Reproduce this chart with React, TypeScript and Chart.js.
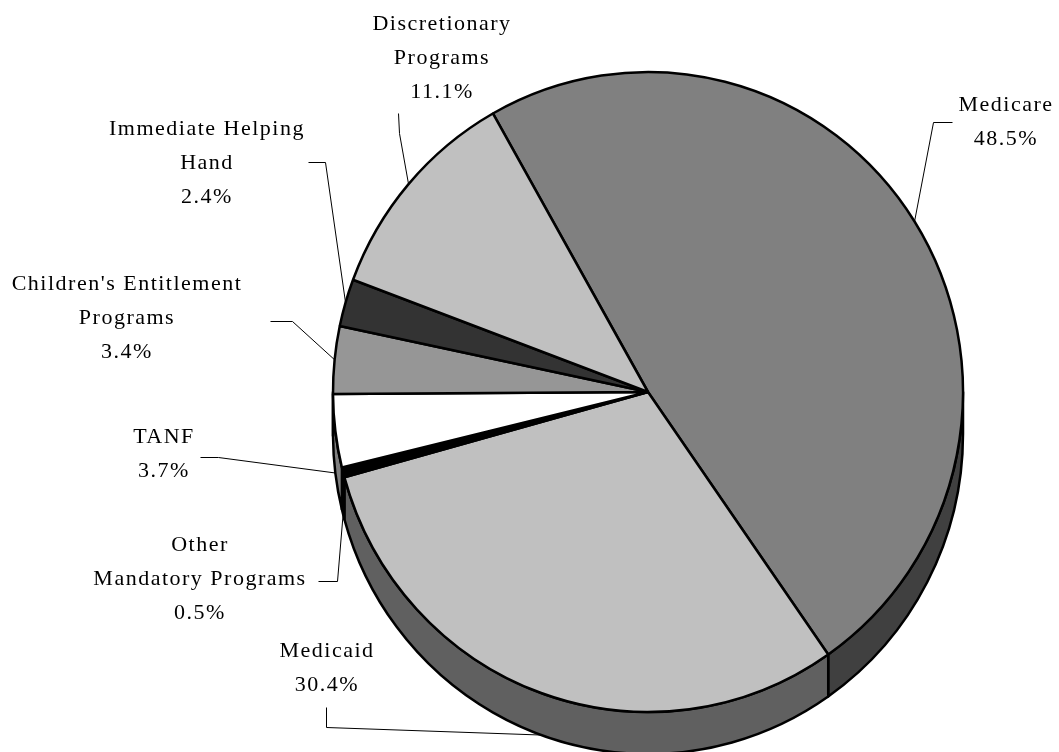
import { useEffect, useRef } from "react";
import { Chart, registerables } from "chart.js";

Chart.register(...registerables);

// Spending shares by program (percent of total)
const categories = [
  "Medicare",
  "Medicaid",
  "Other Mandatory Programs",
  "TANF",
  "Children's Entitlement Programs",
  "Immediate Helping Hand",
  "Discretionary Programs",
];
const shares = [48.5, 30.4, 0.5, 3.7, 3.4, 2.4, 11.1];

// How each category name is broken over lines in its callout
const labelLines = [
  ["Medicare"],
  ["Medicaid"],
  ["Other", "Mandatory Programs"],
  ["TANF"],
  ["Children's Entitlement", "Programs"],
  ["Immediate Helping", "Hand"],
  ["Discretionary", "Programs"],
];

// Top-face and side-wall shades per slice
const topColors = ["#808080", "#c0c0c0", "#000000", "#ffffff", "#969696", "#333333", "#c0c0c0"];
const sideColors = ["#404040", "#606060", "#000000", "#808080", "#4b4b4b", "#1a1a1a", "#606060"];

// Callout placement: text centre x, first baseline y, and the leader's bend points
// (the leader then runs on to the slice's mid-angle on the rim).
const calloutLayout = [
  { x: 1006, y: 111, lead: [[952, 122], [933, 122]] },
  { x: 327, y: 657, lead: [[326, 707], [326, 727]] },
  { x: 200, y: 551, lead: [[318, 581], [337, 581]] },
  { x: 164, y: 443, lead: [[200, 457], [218, 457]] },
  { x: 127, y: 290, lead: [[270, 321], [292, 321]] },
  { x: 207, y: 135, lead: [[308, 162], [325, 162]] },
  { x: 442, y: 30, lead: [[398, 113], [399, 133]] },
];

const WIDTH = 1059;
const HEIGHT = 752;
const RADIUS = 315;
const STRETCH_Y = 320 / 315; // top face is slightly taller than wide
const DEPTH = 42; // thickness of the disc wall, px
const ROTATION = -29.5;
const LINE_HEIGHT = 34;
const EDGE_WIDTH = 2.5;
const FONT = "22px 'Liberation Serif', 'Times New Roman', serif";

const pie3d = {
  id: "pie3d",
  beforeDatasetsDraw(chart: any) {
    const ctx = chart.ctx as CanvasRenderingContext2D;
    const arcs = chart.getDatasetMeta(0).data as any[];
    if (!arcs.length) return;
    const { x, y, outerRadius: r } = arcs[0];
    ctx.save();
    ctx.translate(x, y);
    ctx.scale(1, STRETCH_Y);
    ctx.translate(-x, -y);
    const d = DEPTH / STRETCH_Y;
    arcs.forEach((arc, i) => {
      const s = arc.startAngle;
      const e = arc.endAngle;
      // the wall is only visible on the front half (canvas angles 0..PI)
      for (let k = -2; k <= 2; k++) {
        const lo = Math.max(s, 2 * Math.PI * k);
        const hi = Math.min(e, 2 * Math.PI * k + Math.PI);
        if (hi - lo > 1e-6) {
          ctx.beginPath();
          ctx.arc(x, y, r, lo, hi);
          ctx.arc(x, y + d, r, hi, lo, true);
          ctx.closePath();
          ctx.fillStyle = sideColors[i];
          ctx.fill();
          ctx.lineWidth = EDGE_WIDTH;
          ctx.lineJoin = "round";
          ctx.strokeStyle = "#000";
          ctx.stroke();
        }
      }
    });
  },
  afterDatasetsDraw(chart: any) {
    chart.ctx.restore();
  },
};

const callouts = {
  id: "callouts",
  afterDraw(chart: any) {
    const ctx = chart.ctx as CanvasRenderingContext2D;
    const arcs = chart.getDatasetMeta(0).data as any[];
    ctx.save();
    arcs.forEach((arc, i) => {
      const { x, y, outerRadius: r, startAngle, endAngle } = arc;
      const mid = (startAngle + endAngle) / 2;
      const sin = Math.sin(mid);
      const px = x + r * Math.cos(mid);
      const py = y + STRETCH_Y * r * sin + (sin > 0 ? DEPTH : 0);
      const layout = calloutLayout[i];

      ctx.beginPath();
      ctx.moveTo(layout.lead[0][0] + 0.5, layout.lead[0][1] + 0.5);
      for (let j = 1; j < layout.lead.length; j++) {
        ctx.lineTo(layout.lead[j][0] + 0.5, layout.lead[j][1] + 0.5);
      }
      ctx.lineTo(px, py);
      ctx.lineWidth = 1;
      ctx.strokeStyle = "#000";
      ctx.stroke();

      const lines = [...labelLines[i], shares[i].toFixed(1) + "%"];
      ctx.font = FONT;
      (ctx as any).letterSpacing = "1.5px";
      ctx.fillStyle = "#000";
      ctx.textAlign = "center";
      ctx.textBaseline = "alphabetic";
      lines.forEach((t, j) => {
        ctx.fillText(t, layout.x, layout.y + j * LINE_HEIGHT);
      });
    });
    ctx.restore();
  },
};

export default function App() {
  const canvasRef = useRef<HTMLCanvasElement | null>(null);

  useEffect(() => {
    if (!canvasRef.current) return;
    const chart = new Chart(canvasRef.current, {
      type: "pie",
      data: {
        labels: categories,
        datasets: [
          {
            data: shares,
            backgroundColor: topColors,
            borderColor: "#000",
            borderWidth: EDGE_WIDTH,
            radius: RADIUS,
          } as any,
        ],
      },
      options: {
        responsive: false,
        animation: false,
        devicePixelRatio: 1,
        rotation: ROTATION,
        events: [],
        layout: { padding: { left: 318, right: 81, top: 62, bottom: 30 } },
        plugins: {
          legend: { display: false },
          tooltip: { enabled: false },
        },
      } as any,
      plugins: [pie3d, callouts],
    });
    return () => chart.destroy();
  }, []);

  return (
    <div style={{ position: "fixed", left: 0, top: 0, width: WIDTH, height: HEIGHT, background: "#fff" }}>
      <canvas ref={canvasRef} width={WIDTH} height={HEIGHT} style={{ display: "block" }} />
    </div>
  );
}
